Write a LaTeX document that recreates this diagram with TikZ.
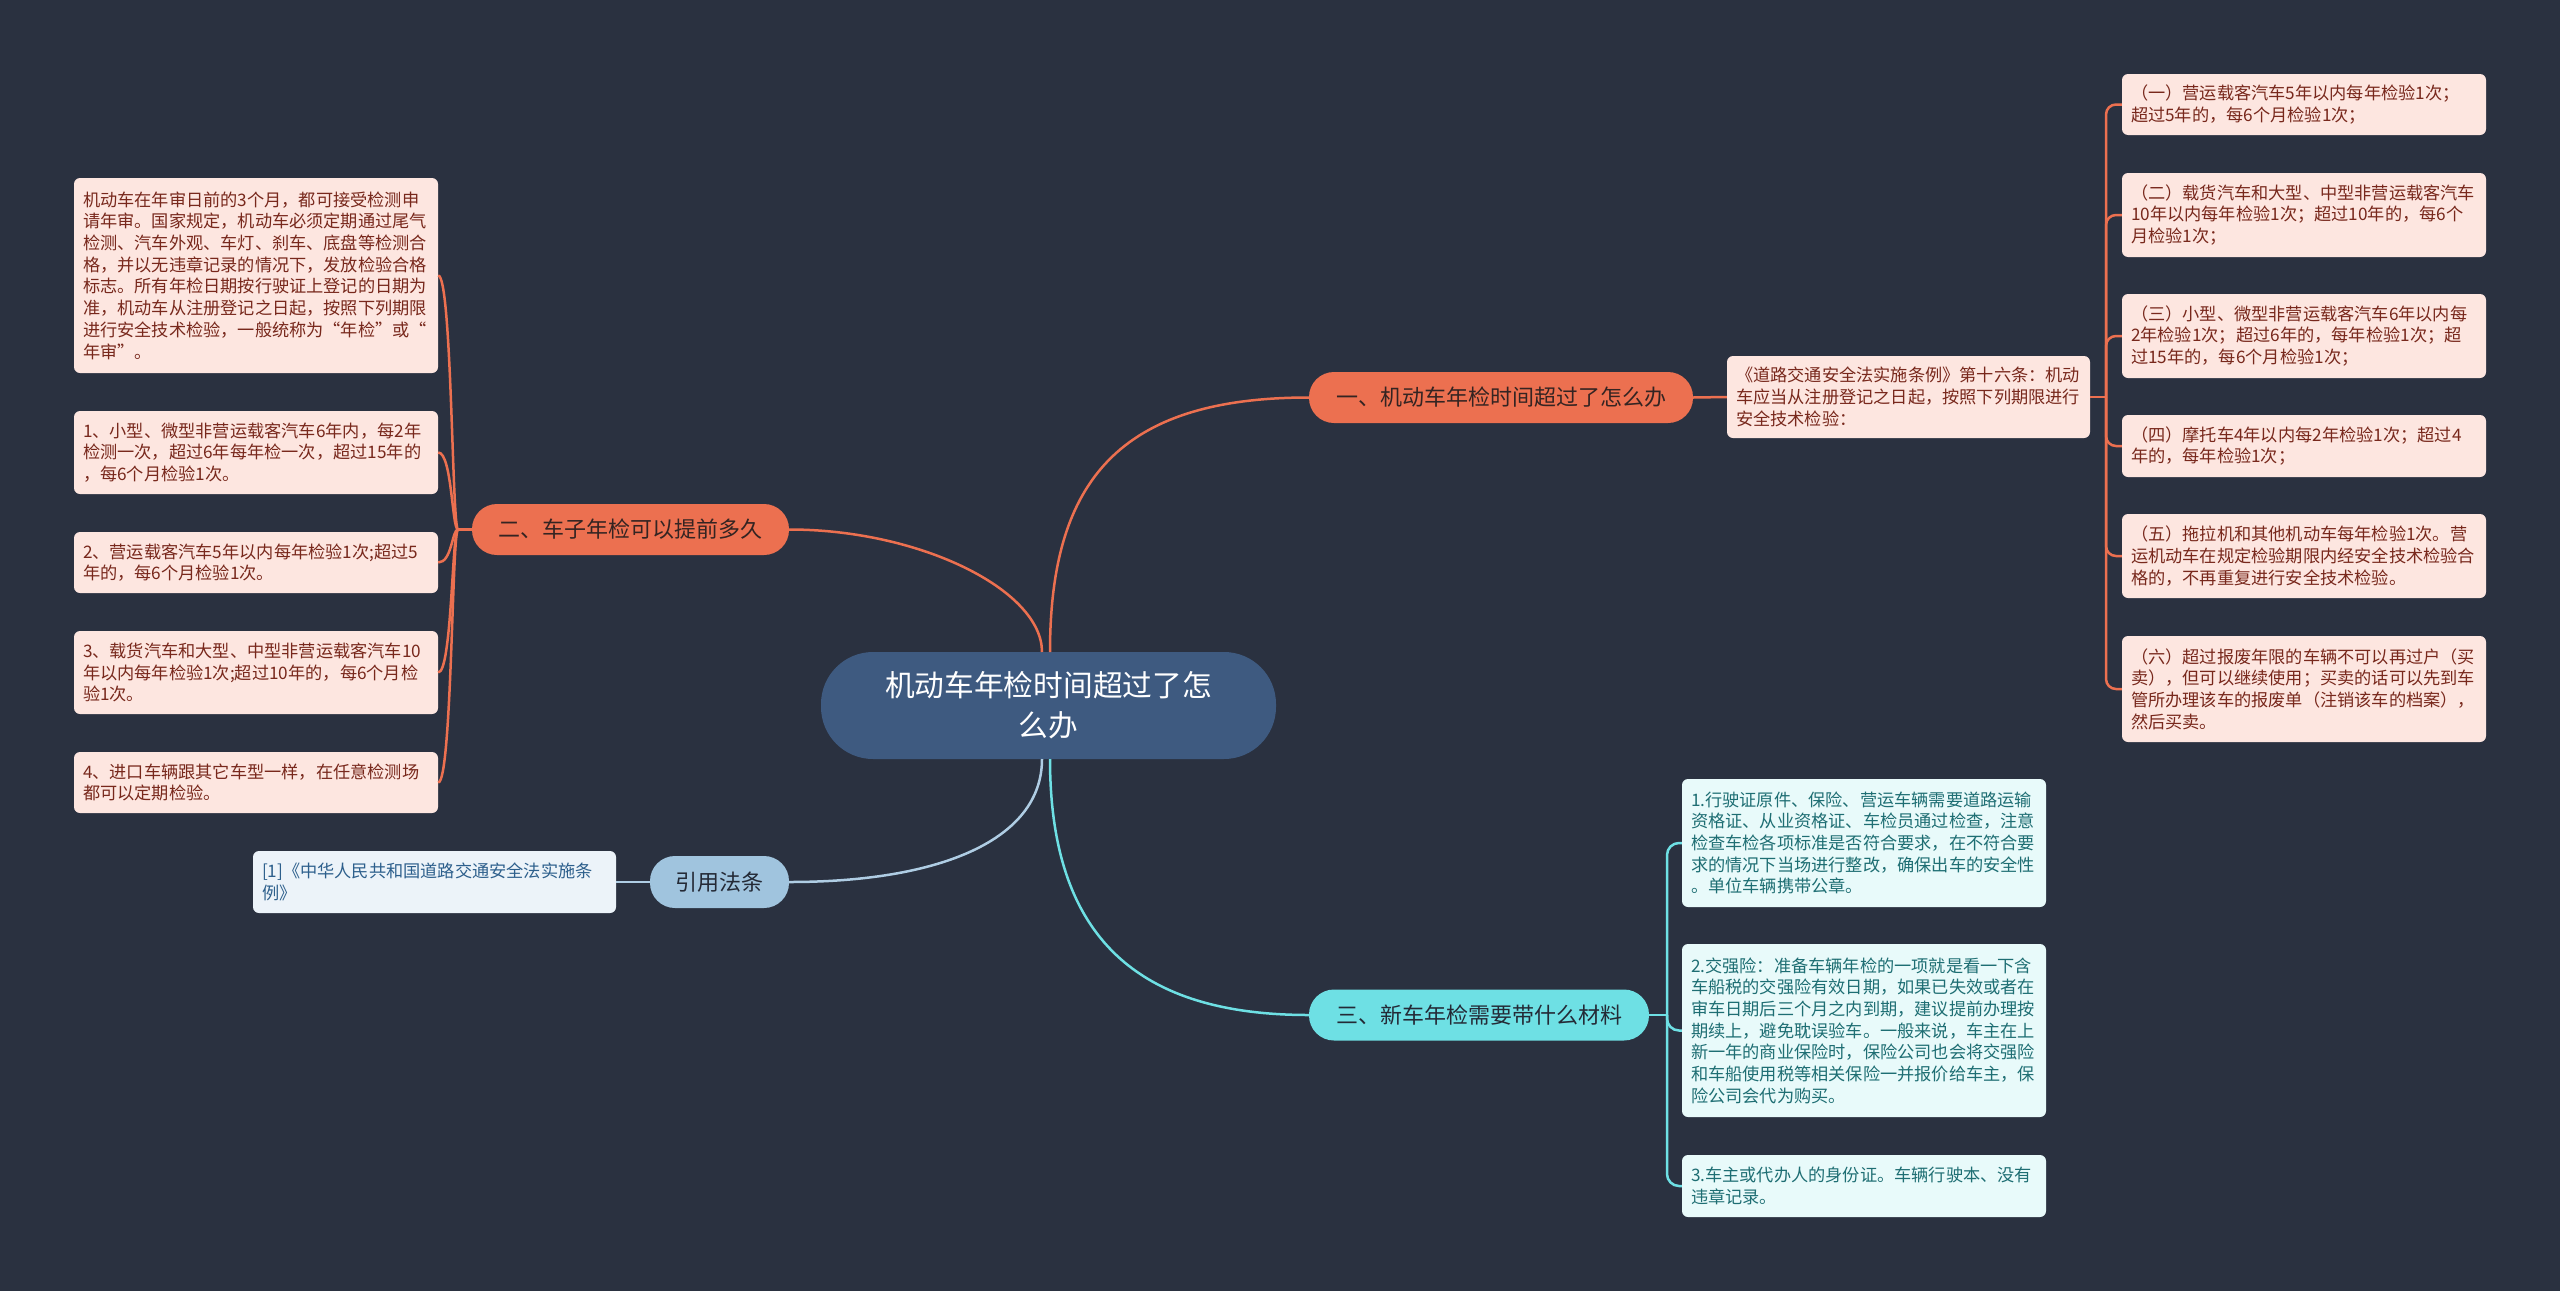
\documentclass[tikz,border=0pt]{standalone}
\usepackage{fontspec}
\setmainfont{Noto Sans CJK SC}
\definecolor{bgc}{RGB}{42,49,64}
\definecolor{rootc}{RGB}{62,90,128}
\definecolor{orc}{RGB}{236,112,80}
\definecolor{pinkc}{RGB}{253,230,224}
\definecolor{pinkt}{RGB}{120,40,28}
\definecolor{ort}{RGB}{52,36,34}
\definecolor{cyc}{RGB}{110,224,228}
\definecolor{cybox}{RGB}{232,250,250}
\definecolor{cyt}{RGB}{30,110,115}
\definecolor{lbc}{RGB}{160,196,222}
\definecolor{lbline}{RGB}{175,205,228}
\definecolor{refbox}{RGB}{236,243,249}
\definecolor{reft}{RGB}{45,95,140}
\definecolor{darkt}{RGB}{36,42,54}
\tikzset{
  boxbase/.style={rectangle, rounded corners=6pt, inner sep=0pt, align=left,
    font=\fontsize{17.2}{21.7}\selectfont},
  pinkbox/.style={boxbase, fill=pinkc, text=pinkt},
  cybx/.style={boxbase, fill=cybox, text=cyt},
  refbx/.style={boxbase, fill=refbox, text=reft},
  pill/.style={rectangle, rounded corners=25pt, inner sep=0pt, minimum height=51pt,
    font=\fontsize{22}{26}\selectfont},
  orline/.style={draw=orc, line width=2.5pt},
  cyline/.style={draw=cyc, line width=2.5pt},
  lbl/.style={draw=lbline, line width=2.5pt},
}
\begin{document}
\begin{tikzpicture}[x=1pt,y=-1pt]
\fill[bgc] (0,0) rectangle (2560,1291);

% root
\node[rectangle, rounded corners=52pt, fill=rootc, text=white, minimum width=455pt, minimum height=107pt,
  align=center, font=\fontsize{29.7}{40}\selectfont] (root) at (1048.5,705.5)
  {机动车年检时间超过了怎\\么办};

% branch pills
\node[pill, fill=orc, text=ort, minimum width=384pt] (b1) at (1501,397.5) {一、机动车年检时间超过了怎么办};
\node[pill, fill=orc, text=ort, minimum width=317pt] (b2) at (630.5,529.5) {二、车子年检可以提前多久};
\node[pill, fill=cyc, text=darkt, minimum width=340pt] (b3) at (1479,1015) {三、新车年检需要带什么材料};
\node[pill, fill=lbc, text=darkt, minimum width=139pt, minimum height=52pt] (b4) at (719.5,882) {引用法条};

% detail box of branch 1
\node[pinkbox, minimum width=363pt, minimum height=82pt, text width=345pt] (d) at (1908.5,397)
  {《道路交通安全法实施条例》第十六条：机动\\车应当从注册登记之日起，按照下列期限进行\\安全技术检验：};

% right boxes
\node[pinkbox, minimum width=364pt, minimum height=61pt, text width=346pt] (r1) at (2304,104.5)
  {（一）营运载客汽车5年以内每年检验1次；\\超过5年的，每6个月检验1次；};
\node[pinkbox, minimum width=364pt, minimum height=84pt, text width=346pt] (r2) at (2304,215)
  {（二）载货汽车和大型、中型非营运载客汽车\\10年以内每年检验1次；超过10年的，每6个\\月检验1次；};
\node[pinkbox, minimum width=364pt, minimum height=84pt, text width=346pt] (r3) at (2304,336)
  {（三）小型、微型非营运载客汽车6年以内每\\2年检验1次；超过6年的，每年检验1次；超\\过15年的，每6个月检验1次；};
\node[pinkbox, minimum width=364pt, minimum height=62pt, text width=346pt] (r4) at (2304,446)
  {（四）摩托车4年以内每2年检验1次；超过4\\年的，每年检验1次；};
\node[pinkbox, minimum width=364pt, minimum height=84pt, text width=346pt] (r5) at (2304,556)
  {（五）拖拉机和其他机动车每年检验1次。营\\运机动车在规定检验期限内经安全技术检验合\\格的，不再重复进行安全技术检验。};
\node[pinkbox, minimum width=364pt, minimum height=106pt, text width=346pt] (r6) at (2304,689)
  {（六）超过报废年限的车辆不可以再过户（买\\卖），但可以继续使用；买卖的话可以先到车\\管所办理该车的报废单（注销该车的档案），\\然后买卖。};

% left boxes
\node[pinkbox, minimum width=364pt, minimum height=195pt, text width=346pt] (l0) at (256,275.5)
  {机动车在年审日前的3个月，都可接受检测申\\请年审。国家规定，机动车必须定期通过尾气\\检测、汽车外观、车灯、刹车、底盘等检测合\\格，并以无违章记录的情况下，发放检验合格\\标志。所有年检日期按行驶证上登记的日期为\\准，机动车从注册登记之日起，按照下列期限\\进行安全技术检验，一般统称为“年检”或“\\年审”。};
\node[pinkbox, minimum width=364pt, minimum height=83pt, text width=346pt] (l1) at (256,452.5)
  {1、小型、微型非营运载客汽车6年内，每2年\\检测一次，超过6年每年检一次，超过15年的\\，每6个月检验1次。};
\node[pinkbox, minimum width=364pt, minimum height=61pt, text width=346pt] (l2) at (256,562.5)
  {2、营运载客汽车5年以内每年检验1次;超过5\\年的，每6个月检验1次。};
\node[pinkbox, minimum width=364pt, minimum height=83pt, text width=346pt] (l3) at (256,672.5)
  {3、载货汽车和大型、中型非营运载客汽车10\\年以内每年检验1次;超过10年的，每6个月检\\验1次。};
\node[pinkbox, minimum width=364pt, minimum height=61pt, text width=346pt] (l4) at (256,782.5)
  {4、进口车辆跟其它车型一样，在任意检测场\\都可以定期检验。};

% bottom right boxes
\node[cybx, minimum width=364pt, minimum height=128pt, text width=346pt] (c1) at (1864,843)
  {1.行驶证原件、保险、营运车辆需要道路运输\\资格证、从业资格证、车检员通过检查，注意\\检查车检各项标准是否符合要求，在不符合要\\求的情况下当场进行整改，确保出车的安全性\\。单位车辆携带公章。};
\node[cybx, minimum width=364pt, minimum height=173pt, text width=346pt] (c2) at (1864,1030.5)
  {2.交强险：准备车辆年检的一项就是看一下含\\车船税的交强险有效日期，如果已失效或者在\\审车日期后三个月之内到期，建议提前办理按\\期续上，避免耽误验车。一般来说，车主在上\\新一年的商业保险时，保险公司也会将交强险\\和车船使用税等相关保险一并报价给车主，保\\险公司会代为购买。};
\node[cybx, minimum width=364pt, minimum height=62pt, text width=346pt] (c3) at (1864,1186)
  {3.车主或代办人的身份证。车辆行驶本、没有\\违章记录。};

% reference box
\node[refbx, minimum width=363pt, minimum height=62pt, text width=345pt] (ref) at (434.5,882)
  {[1]《中华人民共和国道路交通安全法实施条\\例》};

% coordinates for root connector ends
\coordinate (rt1) at (1050,652);
\coordinate (rt2) at (1042,652);
\coordinate (rb1) at (1042,759);
\coordinate (rb2) at (1050,759);

% root connectors
\draw[orline] (rt1) .. controls (1050,480) and (1120,397.5) .. (b1.west);
\draw[orline] (rt2) .. controls (1042,590) and (920,529.5) .. (b2.east);
\draw[lbl] (rb1) .. controls (1042,840) and (940,882) .. (b4.east);
\draw[cyline] (rb2) .. controls (1050,940) and (1140,1015) .. (b3.west);

% branch 1
\draw[orline] (b1.east) -- (d.west);
\coordinate (jr) at (2106,397);
\draw[orline] (d.east) -- (jr);
\foreach \n in {r1,r2,r3,r4,r5,r6}
  \draw[orline, rounded corners=10pt] (jr) |- (\n.west);

% branch 2
\coordinate (jl) at (458,529.5);
\coordinate (vx) at (452,0);
\draw[orline] (b2.west) -- (jl);
\foreach \n in {l0,l1,l2,l3,l4}
  \draw[orline] (jl) .. controls (452,529.5) and (\n.east -| vx) .. (\n.east);

% branch 3
\coordinate (jc) at (1667,1015);
\draw[cyline] (b3.east) -- (jc);
\foreach \n in {c1,c2,c3}
  \draw[cyline, rounded corners=12pt] (jc) |- (\n.west);

% branch 4
\draw[lbl] (b4.west) -- (ref.east);
\end{tikzpicture}
\end{document}
